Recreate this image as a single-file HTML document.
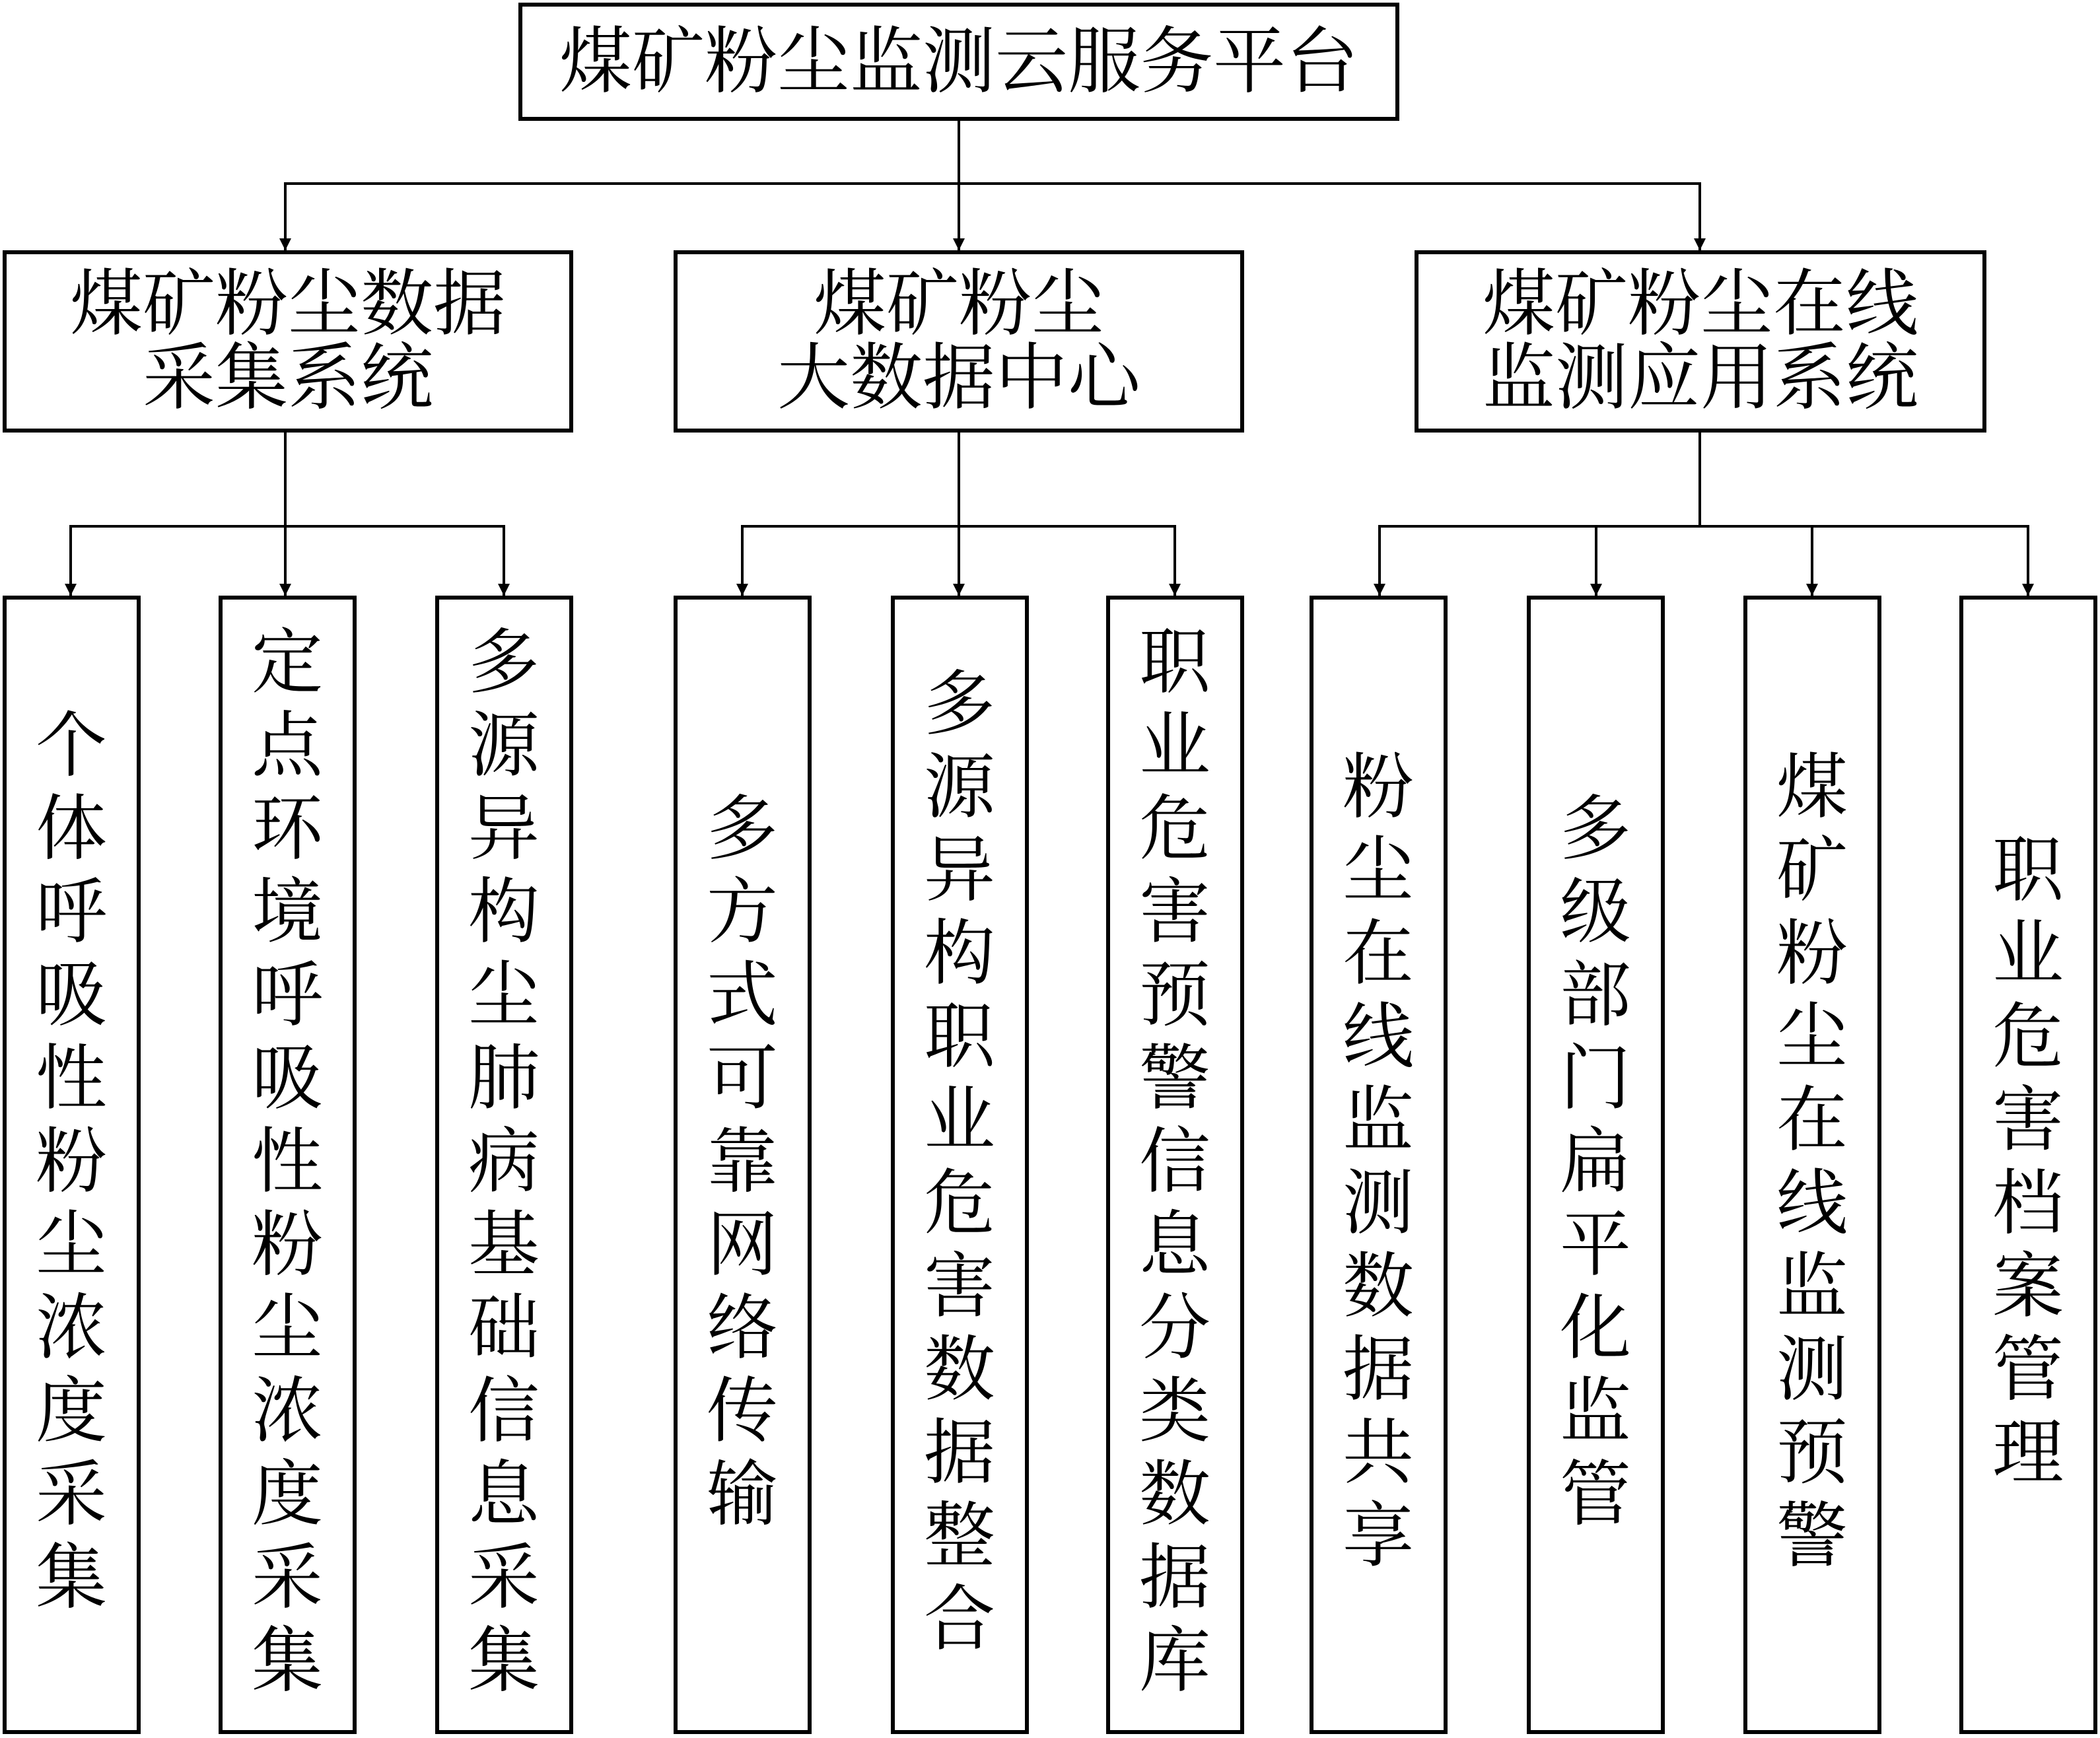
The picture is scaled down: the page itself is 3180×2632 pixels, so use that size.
<!DOCTYPE html>
<html><head><meta charset="utf-8"><style>
html,body{margin:0;padding:0;background:#fff;}
body{width:3180px;height:2632px;position:relative;overflow:hidden;font-family:"Liberation Serif","Noto Serif CJK SC",serif;color:#000;}
.b{position:absolute;box-sizing:border-box;border:6px solid #000;display:flex;align-items:center;justify-content:center;text-align:center;}
.h{font-size:110px;line-height:112px;}
.v{writing-mode:vertical-rl;text-orientation:upright;font-size:108px;letter-spacing:18px;line-height:1;position:relative;left:-12px;}
svg{position:absolute;left:0;top:0;}
</style></head><body>
<svg width="3180" height="2632">
<defs>
<marker id="m" viewBox="0 0 10 10" refX="10" refY="5" markerWidth="18" markerHeight="28" orient="auto" markerUnits="userSpaceOnUse"><path d="M0,0 L10,5 L0,10 Z" fill="#000"/></marker></defs>
<g stroke="#000" stroke-width="4" fill="none">
<line x1="1452" y1="183" x2="1452" y2="379" marker-end="url(#m)"/>
<polyline points="432,379 432,278 2574,278 2574,379" />
<line x1="432" y1="278" x2="432" y2="379" marker-end="url(#m)"/>
<line x1="2574" y1="278" x2="2574" y2="379" marker-end="url(#m)"/>
<line x1="432" y1="655" x2="432" y2="902" marker-end="url(#m)"/>
<polyline points="107,902 107,797 763,797 763,902"/>
<line x1="107" y1="797" x2="107" y2="902" marker-end="url(#m)"/>
<line x1="763" y1="797" x2="763" y2="902" marker-end="url(#m)"/>
<line x1="1452" y1="655" x2="1452" y2="902" marker-end="url(#m)"/>
<polyline points="1124,902 1124,797 1779,797 1779,902"/>
<line x1="1124" y1="797" x2="1124" y2="902" marker-end="url(#m)"/>
<line x1="1779" y1="797" x2="1779" y2="902" marker-end="url(#m)"/>
<line x1="2574" y1="655" x2="2574" y2="797"/>
<polyline points="2089,902 2089,797 3071,797 3071,902"/>
<line x1="2089" y1="797" x2="2089" y2="902" marker-end="url(#m)"/>
<line x1="2417" y1="797" x2="2417" y2="902" marker-end="url(#m)"/>
<line x1="2744" y1="797" x2="2744" y2="902" marker-end="url(#m)"/>
<line x1="3071" y1="797" x2="3071" y2="902" marker-end="url(#m)"/>
</g></svg>
<div class="b h" style="left:785px;top:4px;width:1334px;height:179px;">煤矿粉尘监测云服务平台</div>
<div class="b h" style="left:4px;top:379px;width:864px;height:276px;">煤矿粉尘数据<br>采集系统</div>
<div class="b h" style="left:1020px;top:379px;width:864px;height:276px;">煤矿粉尘<br>大数据中心</div>
<div class="b h" style="left:2142px;top:379px;width:866px;height:276px;">煤矿粉尘在线<br>监测应用系统</div>
<div class="b" style="left:4px;top:902px;width:209px;height:1724px;"><span class="v">个体呼吸性粉尘浓度采集</span></div>
<div class="b" style="left:331px;top:902px;width:209px;height:1724px;"><span class="v">定点环境呼吸性粉尘浓度采集</span></div>
<div class="b" style="left:659px;top:902px;width:209px;height:1724px;"><span class="v">多源异构尘肺病基础信息采集</span></div>
<div class="b" style="left:1020px;top:902px;width:209px;height:1724px;"><span class="v">多方式可靠网络传输</span></div>
<div class="b" style="left:1349px;top:902px;width:209px;height:1724px;"><span class="v">多源异构职业危害数据整合</span></div>
<div class="b" style="left:1675px;top:902px;width:209px;height:1724px;"><span class="v">职业危害预警信息分类数据库</span></div>
<div class="b" style="left:1983px;top:902px;width:209px;height:1724px;"><span class="v">粉尘在线监测数据共享</span></div>
<div class="b" style="left:2312px;top:902px;width:209px;height:1724px;"><span class="v">多级部门扁平化监管</span></div>
<div class="b" style="left:2640px;top:902px;width:209px;height:1724px;"><span class="v">煤矿粉尘在线监测预警</span></div>
<div class="b" style="left:2967px;top:902px;width:209px;height:1724px;"><span class="v">职业危害档案管理</span></div>
</body></html>
